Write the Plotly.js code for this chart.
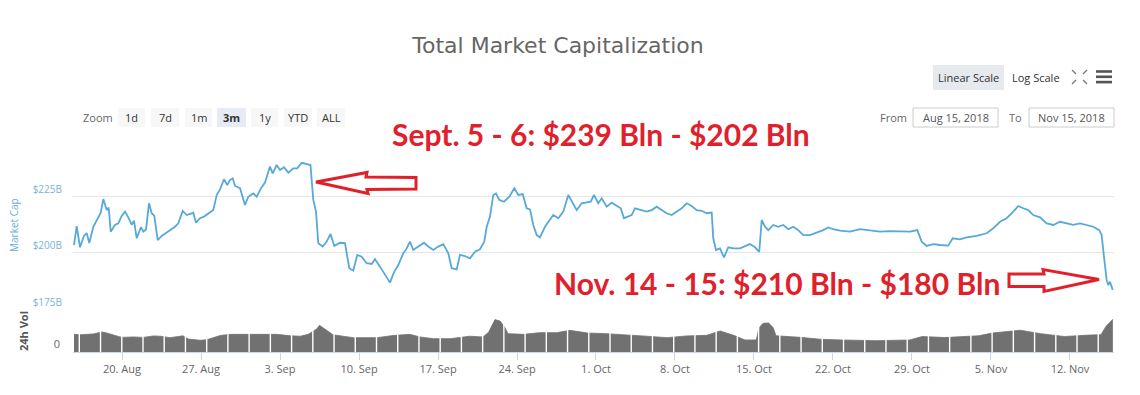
<!DOCTYPE html>
<html>
<head>
<meta charset="utf-8">
<script src="https://cdn.plot.ly/plotly-3.0.1.min.js"></script>
<style>
  html, body { margin: 0; padding: 0; background: #fff; }
  #chart { width: 1140px; height: 395px; }
</style>
</head>
<body>
<div id="chart"></div>
<script>
// ---------- DATA (days since 15 Aug 2018 00:00 UTC) ----------
const capDay = [0.747,0.986,1.279,1.633,1.872,2.103,2.457,2.811,3.113,3.343,3.644,3.822,3.999,4.380,4.672,4.973,5.266,5.558,5.860,6.063,6.303,6.684,6.887,7.127,7.392,7.632,7.862,8.163,8.518,8.961,9.404,9.696,9.989,10.378,10.733,11.087,11.318,11.557,11.911,12.266,12.647,13.090,13.391,13.683,14.038,14.330,14.569,14.809,15.012,15.455,15.898,16.191,16.634,16.935,17.316,17.671,18.114,18.353,18.707,19.000,19.354,19.735,20.178,20.532,20.922,21.365,21.702,21.950,22.190,22.393,22.783,23.138,23.474,23.811,24.316,24.759,25.140,25.494,25.849,26.239,26.682,27.125,27.417,27.860,28.303,28.746,29.127,29.482,29.925,30.226,30.518,30.811,31.254,31.759,32.140,32.583,33.026,33.469,33.912,34.213,34.656,34.949,35.392,35.835,36.278,36.721,37.102,37.315,37.607,37.899,38.139,38.431,38.847,39.317,39.760,40.114,40.504,40.859,41.151,41.443,41.745,42.037,42.480,42.861,43.216,43.659,44.102,44.545,44.846,45.289,45.732,46.175,46.529,46.822,47.203,47.504,47.947,48.390,48.833,49.188,49.480,49.861,50.162,50.455,51.048,51.491,51.934,52.377,52.820,53.263,53.707,54.150,54.593,55.036,55.479,55.922,56.365,56.808,57.251,57.393,57.632,57.986,58.341,58.722,59.165,59.758,60.201,60.644,61.087,61.468,61.681,61.973,62.266,62.709,63.152,63.595,64.038,64.481,64.924,65.367,65.961,66.554,67.139,67.582,68.025,68.619,69.505,70.391,71.277,72.163,73.049,73.935,74.821,75.468,75.858,76.301,76.886,77.479,78.215,78.605,79.251,79.845,80.731,81.617,82.202,82.796,83.389,83.974,84.417,84.860,85.303,85.746,86.340,86.934,87.518,88.112,88.705,89.290,89.884,90.478,91.062,91.594,91.807,92.010,92.249,92.391,92.542,92.782];
const capValue = [203.4,211.8,202.4,207.4,208.7,204.3,211.5,215,217.6,223.8,218.9,220,209.3,212.3,213,216.3,218.2,215.7,212.3,214.2,206.4,211.3,209.3,210.3,221.9,217.5,216.3,205.6,207.4,208.9,210.4,211.5,213,218.5,216.7,217.5,217.7,213.3,215.3,216,217.5,218.9,225.6,228.1,232.6,230,232.2,233,229.6,228.6,221.2,224.8,226.3,224.8,228.6,231.1,238.2,235.2,238.9,236.7,237.9,235.5,237.4,237.4,239.9,239.3,238.9,223.4,218.2,204.2,202.7,204.9,208.3,203,204.4,204.2,193.1,192,199,198.2,195.3,195,197.1,193.8,190.1,186.7,191.6,194.5,199.7,201.9,204.9,201.2,202.7,204.4,202.7,201.2,202.7,203.8,199.7,193.1,192.6,199,198.5,197.5,200.4,201.5,204.9,211.5,216,225.6,226.3,223.4,222.6,224.8,228.6,225.6,226,219.7,219.2,212.3,207.8,206.8,211.5,214.5,216.7,215.3,218.2,225.6,222.6,218.9,221.9,222.2,222.6,225.6,221.9,224.1,220.4,222.2,220.7,219.7,215.3,216,216.7,219.7,218.9,218.2,218.9,220.4,218.9,217.5,216.7,218.2,219.7,221.9,220.7,218.9,218.6,217.5,217.8,206.4,201.2,201.9,197.9,202.4,201.9,201.9,202.7,203.8,202.4,200.4,214.5,211.5,210,212.3,211.5,212.3,210.4,211.5,210,207.8,207.8,208.9,210,211.2,210.4,209.8,209.3,210.4,210,209.3,209.6,209.3,209.3,210,204.9,203,203.8,203.4,203.1,206.4,205.9,206.8,207.4,208.6,210.8,213.7,215.3,218.2,220.7,219.7,218.9,216.7,215.7,213,212.3,213.7,213,212.3,213,212.3,211.5,210,207.8,198.2,187.9,185.6,187.1,183.5];

const volDay = [0.75,1.28,2.46,3.2,3.64,4.97,6.0,6.9,7.8,8.4,9.25,10.4,10.9,11.9,12.5,13.7,14.6,17.2,18.7,19.9,20.8,21.5,22.25,22.5,23.0,23.7,24.6,25.5,27.6,29.0,30.5,31.4,32.6,34.1,35.8,37.0,37.5,38.05,38.5,38.9,39.2,40.6,42.0,43.5,44.7,46.2,47.9,49.7,51.5,53.3,55.0,56.8,58.0,59.2,60.2,61.2,61.45,61.8,62.3,62.7,62.95,65.0,66.9,68.7,71.8,74.8,75.9,77.9,80.9,82.1,84.6,86.4,88.5,90.7,91.75,92.2,92.8];
const volValue = [12.3,12.0,12.6,14.0,13.3,10.2,10.5,10.2,11.2,11.0,10.0,11.3,9.0,8.2,8.5,11.5,12.3,12.0,12.3,11.3,11.0,12.3,16.0,18.6,16.0,12.0,11.0,10.0,10.0,11.5,12.3,10.5,9.3,9.3,11.0,10.5,14.0,22.6,21.6,17.5,12.8,12.3,13.5,13.5,15.1,13.3,12.8,12.1,11.0,10.0,11.2,11.6,14.7,11.6,8.4,8.4,17.0,20.0,20.3,17.0,11.3,10.3,8.9,8.4,7.9,8.4,10.8,10.1,11.3,13.2,15.2,12.8,10.8,11.8,12.1,18.0,22.8];

const capTickVals = [175, 200, 225, 250];
const capTickText = ['$175B', '$200B', '$225B', ''];
const zoomButtons = ['1d', '7d', '1m', '3m', '1y', 'YTD', 'ALL'];
const fromDate = 'Aug 15, 2018';
const toDate = 'Nov 15, 2018';
const note1 = 'Sept. 5 - 6: $239 Bln - $202 Bln';
const note2 = 'Nov. 14 - 15: $210 Bln - $180 Bln';

// ---------- helpers ----------
const DAY = 86400000;
const BASE = Date.UTC(2018, 7, 15);
const toMs = d => BASE + d * DAY;
const toDateStr = ms => new Date(ms).toISOString().replace('T', ' ').replace('Z', '');

const W = 1140, H = 395;
const L = 73, R = 1114, T = 140, B = 352;
const px = x => (x - L) / (R - L);
const py = y => (B - y) / (B - T);
const splitY = py(309);

const UIFONT = 'Open Sans, DejaVu Sans, sans-serif';
const shapes = [];
const annotations = [];
function label(text, x, y, font, extra) {
  annotations.push(Object.assign({text: text, xref: 'paper', yref: 'paper', x: px(x), y: py(y),
    xanchor: 'center', yanchor: 'middle', showarrow: false, font: font}, extra || {}));
}

// volume group separators (decoration)
for (let k = 0; k < 49; k++) {
  const xs = toDateStr(toMs(1.2165 + 1.881 * k));
  shapes.push({type: 'line', xref: 'x', yref: 'paper', x0: xs, x1: xs, y0: 0, y1: splitY,
    line: {color: '#ffffff', width: 1.4}, layer: 'above'});
}

// zoom buttons
const btnX = [[118,145],[151,179],[185,212],[217,246],[251,278],[284,312],[317,345]];
label('Zoom', 97.5, 117.5, {family: UIFONT, size: 11, color: '#666'});
zoomButtons.forEach((b, i) => {
  const sel = b === '3m';
  shapes.push({type: 'rect', xref: 'paper', yref: 'paper', x0: px(btnX[i][0]), x1: px(btnX[i][1]),
    y0: py(127), y1: py(108), fillcolor: sel ? '#e6ebf5' : '#f7f7f7', line: {width: 0}, layer: 'below'});
  label(sel ? '<b>' + b + '</b>' : b, (btnX[i][0] + btnX[i][1]) / 2, 117.5,
    {family: UIFONT, size: 11, color: '#333'});
});

// scale buttons
shapes.push({type: 'rect', xref: 'paper', yref: 'paper', x0: px(933), x1: px(1004), y0: py(90), y1: py(65),
  fillcolor: '#e6e9ee', line: {width: 0}, layer: 'below'});
label('Linear Scale', 968.5, 77.5, {family: UIFONT, size: 11, color: '#333'});
label('Log Scale', 1036, 77.5, {family: UIFONT, size: 11, color: '#333'});

// fullscreen icon
const fi = [[1072,70,1076,74],[1087,70,1083,74],[1072,84,1076,80],[1087,84,1083,80]];
fi.forEach(s => shapes.push({type: 'line', xref: 'paper', yref: 'paper', x0: px(s[0]), y0: py(s[1]),
  x1: px(s[2]), y1: py(s[3]), line: {color: '#777', width: 1.3}}));
// menu icon
[71.5, 76.8, 82.1].forEach(y => shapes.push({type: 'line', xref: 'paper', yref: 'paper',
  x0: px(1096), x1: px(1112), y0: py(y), y1: py(y), line: {color: '#555', width: 2.6}}));

// from / to
label('From', 893.5, 117.5, {family: UIFONT, size: 11, color: '#666'});
label('To', 1015.5, 117.5, {family: UIFONT, size: 11, color: '#666'});
[[913, 998, fromDate], [1029, 1114, toDate]].forEach(b => {
  shapes.push({type: 'rect', xref: 'paper', yref: 'paper', x0: px(b[0]), x1: px(b[1]), y0: py(127), y1: py(108),
    fillcolor: 'rgba(0,0,0,0)', line: {color: '#cccccc', width: 1}});
  label(b[2], (b[0] + b[1]) / 2, 117.5, {family: UIFONT, size: 11, color: '#555'});
});

// axis titles
label('Market Cap', 14, 225, {family: UIFONT, size: 10, color: '#6aaed8'}, {textangle: -90});
label('<b>24h Vol</b>', 23, 331, {family: UIFONT, size: 11, color: '#555'}, {textangle: -90});

// red notes
const RED = '#e0212b';
label('<b>' + note1 + '</b>', 601, 134, {family: 'Lato, sans-serif', size: 30, color: RED});
label('<b>' + note2 + '</b>', 777, 283, {family: 'Lato, sans-serif', size: 30, color: RED});

// block arrows
function pathFrom(pts) {
  return 'M' + pts.map(p => px(p[0]).toFixed(5) + ',' + py(p[1]).toFixed(5)).join(' L') + ' Z';
}
shapes.push({type: 'path', xref: 'paper', yref: 'paper',
  path: pathFrom([[316,182],[367,172.5],[366,177],[416,177.5],[416,189],[367,189.5],[368,193.5]]),
  fillcolor: '#fff', line: {color: RED, width: 3}});
shapes.push({type: 'path', xref: 'paper', yref: 'paper',
  path: pathFrom([[1009,274],[1044,274],[1043,269.5],[1099,279.5],[1044,291.5],[1044,286.5],[1009,286.5]]),
  fillcolor: '#fff', line: {color: RED, width: 3}});

// ---------- traces ----------
const capTrace = {
  type: 'scatter', mode: 'lines', x: capDay.map(d => toDateStr(toMs(d))), y: capValue, xaxis: 'x', yaxis: 'y',
  line: {color: '#56a9d8', width: 1.8}, hoverinfo: 'skip'
};
const volTrace = {
  type: 'scatter', mode: 'lines', x: volDay.map(d => toDateStr(toMs(d))), y: volValue, xaxis: 'x', yaxis: 'y2',
  fill: 'tozeroy', fillcolor: '#717171', line: {color: '#717171', width: 0.8}, hoverinfo: 'skip'
};

const layout = {
  width: W, height: H,
  margin: {l: L, r: W - R, t: T, b: H - B, pad: 0},
  paper_bgcolor: '#fff', plot_bgcolor: '#fff',
  showlegend: false,
  title: {text: 'Total Market Capitalization', xref: 'container', yref: 'container',
    x: 558 / W, y: 1 - 45 / H, xanchor: 'center', yanchor: 'middle',
    font: {family: 'DejaVu Sans, sans-serif', size: 22, color: '#666'}},
  xaxis: {
    type: 'date', anchor: 'y2',
    range: [toDateStr(toMs(0.658)), toDateStr(toMs(92.9))],
    tick0: toDateStr(Date.UTC(2018, 7, 20)), dtick: 7 * DAY, tickformat: '%-d. %b',
    ticks: 'outside', ticklen: 7, tickcolor: '#ccd6eb', tickwidth: 1,
    showline: true, linecolor: '#ccd6eb', linewidth: 1,
    showgrid: false, zeroline: false,
    tickfont: {family: UIFONT, size: 11, color: '#666'}
  },
  yaxis: {
    domain: [splitY, 1], range: [175, 250],
    tickvals: capTickVals, ticktext: capTickText,
    ticklabelposition: 'outside top', ticklabelstandoff: 10,
    showgrid: true, gridcolor: '#e6e6e6', gridwidth: 1, zeroline: false, showline: false, ticks: '',
    tickfont: {family: UIFONT, size: 10, color: '#7ab3d6'}
  },
  yaxis2: {
    domain: [0, splitY], range: [0, 30],
    tickvals: [0], ticktext: ['0'],
    ticklabelposition: 'outside top', ticklabelstandoff: 12,
    showgrid: false, zeroline: false, showline: false, ticks: '',
    tickfont: {family: UIFONT, size: 11, color: '#666'}
  },
  shapes: shapes,
  annotations: annotations
};

Plotly.newPlot('chart', [volTrace, capTrace], layout, {displayModeBar: false, staticPlot: true});
</script>
</body>
</html>
